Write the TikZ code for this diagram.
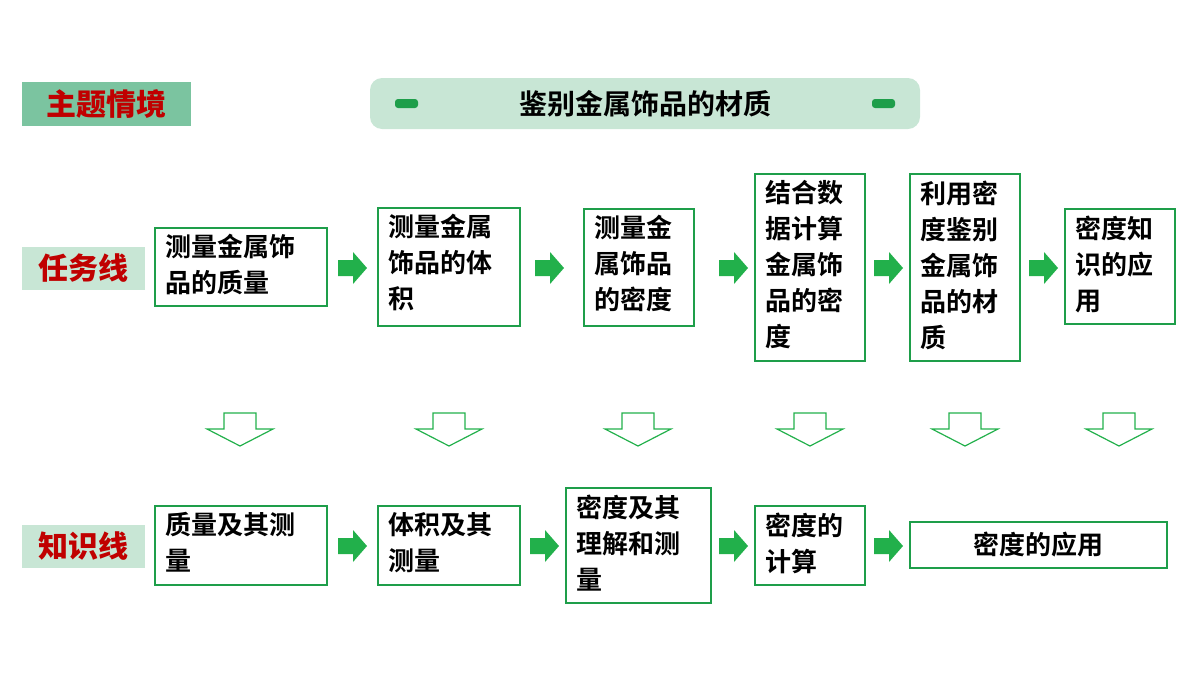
\documentclass[tikz,border=0pt]{standalone}
\usepackage{fontspec}
\setmainfont{Noto Sans CJK SC}[BoldFont={Noto Sans CJK SC Bold}]
\newfontfamily\cjkb{Noto Sans CJK SC Black}
\usetikzlibrary{calc}
\definecolor{bx}{HTML}{1E9E4A}
\definecolor{ga}{HTML}{22B04B}
\definecolor{lg}{HTML}{C8E6D5}
\definecolor{mg}{HTML}{7BC4A0}
\definecolor{rd}{HTML}{C00000}
\begin{document}
\begin{tikzpicture}[x=1pt,y=-1pt,
 box/.style={draw=bx,line width=1.5pt,inner sep=0pt},
 txt/.style={font=\bfseries\fontsize{26}{36}\selectfont,align=left,anchor=north west},
 lab/.style={font=\cjkb\fontsize{30}{30}\selectfont,text=rd},
 darrow/.style={draw=ga,line width=1.2pt}]
\useasboundingbox (0,0) rectangle (1200,675);
% labels
\fill[mg] (22,82) rectangle (191,126);
\node[lab] (l1) at (106,104) {主题情境};
\fill[lg] (22,247) rectangle (145,290);
\node[lab] (l2) at (83,268) {任务线};
\fill[lg] (22,525) rectangle (145,568);
\node[lab] (l3) at (83,546) {知识线};
% banner
\fill[lg,rounded corners=12pt] (370,78) rectangle (920,129);
\node[font=\bfseries\fontsize{28}{28}\selectfont] (title) at (645,104) {鉴别金属饰品的材质};
\fill[bx,rounded corners=3pt] (395,99) rectangle (418,108);
\fill[bx,rounded corners=3pt] (872,99) rectangle (895,108);
% boxes
\def\bb#1#2#3#4#5#6{\draw[box] (#2,#3) rectangle (#4,#5); \node[txt] (#1) at ($(#2,#3)+(7,3)$) {#6};}
\bb{t1}{155}{228}{327}{306}{测量金属饰\\品的质量}
\bb{t2}{378}{208}{520}{326}{测量金属\\饰品的体\\积}
\bb{t3}{584}{209}{694}{326}{测量金\\属饰品\\的密度}
\bb{t4}{755}{174}{865}{361}{结合数\\据计算\\金属饰\\品的密\\度}
\bb{t5}{910}{174}{1020}{361}{利用密\\度鉴别\\金属饰\\品的材\\质}
\bb{t6}{1065}{209}{1175}{324}{密度知\\识的应\\用}
\bb{k1}{155}{506}{327}{585}{质量及其测\\量}
\bb{k2}{378}{506}{520}{585}{体积及其\\测量}
\bb{k3}{566}{488}{711}{603}{密度及其\\理解和测\\量}
\bb{k4}{755}{506}{865}{585}{密度的\\计算}
\draw[box] (910,522) rectangle (1167,568);
\node[font=\bfseries\fontsize{26}{36}\selectfont] (k5) at (1038,545) {密度的应用};
% right arrows
\foreach \x/\y/\n in {352/268/a1,549/268/a2,733/268/a3,888/268/a4,1043/268/a5,352/546/b1,544/546/b2,733/546/b3,888/546/b4}{
 \coordinate (\n) at (\x,\y);
 \fill[ga] ($(\n)+(-14,-8)$) -- ($(\n)+(1,-8)$) -- ($(\n)+(1,-16)$) -- ($(\n)+(15,0)$) -- ($(\n)+(1,16)$) -- ($(\n)+(1,8)$) -- ($(\n)+(-14,8)$) -- cycle;}
% down hollow arrows
\foreach \x/\n in {240/d1,449/d2,638/d3,810/d4,965/d5,1119/d6}{
 \coordinate (\n) at (\x,413);
 \draw[darrow] ($(\n)+(-16,0)$) -- ($(\n)+(16,0)$) -- ($(\n)+(16,16)$) -- ($(\n)+(33,16)$) -- ($(\n)+(0,33)$) -- ($(\n)+(-33,16)$) -- ($(\n)+(-16,16)$) -- cycle;}
\end{tikzpicture}
\end{document}
